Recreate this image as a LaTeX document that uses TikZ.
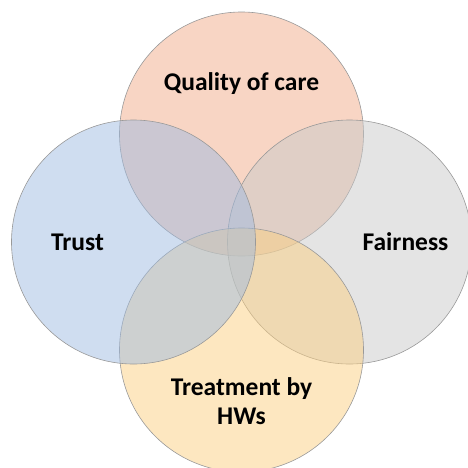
\documentclass[tikz,border=0pt]{standalone}
\usepackage{fontspec}
\setmainfont{Carlito}
\usepackage{tikz}
\usetikzlibrary{positioning}

\definecolor{salmon}{RGB}{241,171,137}
\definecolor{skyblue}{RGB}{159,187,225}
\definecolor{greyish}{RGB}{201,201,201}
\definecolor{sand}{RGB}{251,207,129}

\begin{document}
\begin{tikzpicture}[x=1pt, y=-1pt, on grid, node distance={108pt},
		main/.style = {draw=black!40, line width=0.6pt, circle, minimum size=244pt, inner sep=0pt, fill opacity=0.5},
		label/.style = {font=\fontsize{25.5}{29}\selectfont\bfseries, align=center}]
		\useasboundingbox (0,0) rectangle (468,467);
		\node[main, fill=salmon] (1) at (241.5,134) {};
		\node[main, fill=greyish] (3) [below right=108pt and 108pt of 1] {};
		\node[main, fill=sand] (4) [below left=108pt and 108pt of 3] {};
		\node[main, fill=skyblue] (2) [above left=108pt and 108pt of 4] {};
		
		\node[label] (5) [above=50pt of 1] {Quality of care};
		\node[label] (6) [left=56pt of 2] {Trust};
		\node[label] (7) [right=56pt of 3] {Fairness};
		\node[label] (8) [below=51pt of 4] {Treatment by\\HWs};
	\end{tikzpicture}
\end{document}
